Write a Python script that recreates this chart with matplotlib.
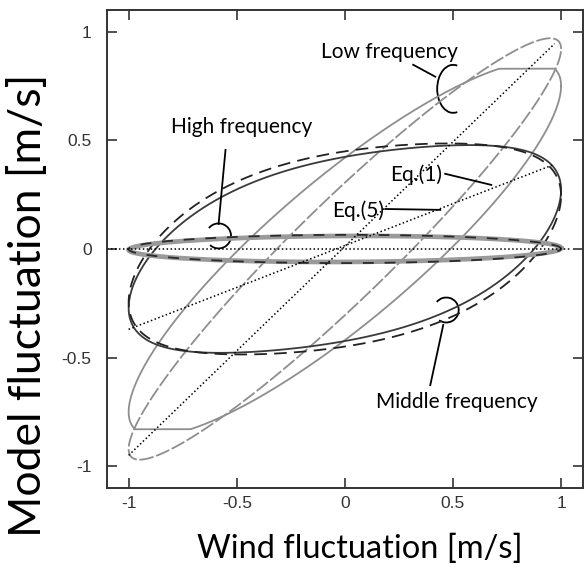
import numpy as np
import matplotlib
matplotlib.use("Agg")
import matplotlib.pyplot as plt
from matplotlib.patches import Arc

# loops: wind = cos(t), model = g1*cos(t - p1) + g3*cos(3t - p3)
# low frequency
low_gain = [0.97, 0.86]
low_phase = [0.32, 0.51]
low_limit = [None, 0.83]          # output saturation of the second model
# middle frequency
mid_gain = [0.50, 0.51]
mid_phase = [1.05, 1.12]
mid_gain3 = [0.025, 0.025]
mid_phase3 = [0.40, 0.40]
# high frequency
high_gain = [0.06, 0.065]
high_phase = [1.50, 1.55]

# dotted reference lines
line_x = [-1.0, 0.97]
steep_y = [-0.95, 0.945]
shallow_y = [-0.37, 0.39]

ticks = [-1, -0.5, 0, 0.5, 1]
tick_labels = ["-1", "-0.5", "0", "0.5", "1"]

t = np.linspace(0, 2 * np.pi, 721)
wind = np.cos(t)


def loop(g1, p1, g3=0.0, p3=0.0, limit=None):
    y = g1 * np.cos(t - p1) + g3 * np.cos(3 * t - p3)
    if limit is not None:
        y = np.clip(y, -limit, limit)
    return y


fig = plt.figure(figsize=(5.88, 5.72), dpi=100)
ax = fig.add_axes([0.182, 0.147, 0.809, 0.8355])

gray = "#8e8e8e"
dark = "#3a3a3a"

# low frequency loops
ax.plot(wind, loop(low_gain[0], low_phase[0]), color=gray, lw=1.3,
        dashes=(8, 1.5))
ax.plot(wind, loop(low_gain[1], low_phase[1], limit=low_limit[1]),
        color=gray, lw=1.3)

# middle frequency loops
ax.plot(wind, loop(mid_gain[0], mid_phase[0], mid_gain3[0], mid_phase3[0]),
        color=dark, lw=1.3)
ax.plot(wind, loop(mid_gain[1], mid_phase[1], mid_gain3[1], mid_phase3[1]),
        color="#222222", lw=1.3, dashes=(7, 4))

# high frequency loops
ax.plot(wind, loop(high_gain[0], high_phase[0]), color="#9a9a9a", lw=3.4)
ax.plot(wind, loop(high_gain[1], high_phase[1]), color="#2a2a2a", lw=1.3,
        dashes=(6, 6))

# dotted lines
dots = (0, (1, 1.6))
ax.plot([-1.1, 1.04], [0, 0], color="black", lw=1.1, linestyle=dots)
ax.plot(line_x, steep_y, color="black", lw=1.1, linestyle=dots)
ax.plot(line_x, shallow_y, color="black", lw=1.1, linestyle=dots)

# annotations
note_font = dict(family=["Lato", "DejaVu Sans"], size=15, color="black")
ax.text(0.208, 0.908, "Low frequency", ha="center", va="center", **note_font)
ax.plot([0.316, 0.418], [0.848, 0.793], color="black", lw=1.3)
ax.add_patch(Arc((0.501, 0.737), 0.148, 0.221, theta1=80, theta2=280,
                 color="black", lw=1.3))

ax.text(-0.478, 0.562, "High frequency", ha="center", va="center", **note_font)
ax.plot([-0.552, -0.584], [0.456, 0.115], color="black", lw=1.3)
ax.add_patch(Arc((-0.584, 0.060), 0.115, 0.115, theta1=-133, theta2=141,
                 color="black", lw=1.3))

ax.text(0.330, 0.341, "Eq.(1)", ha="center", va="center", **note_font)
ax.plot([0.464, 0.677], [0.346, 0.295], color="black", lw=1.3)
ax.text(0.062, 0.175, "Eq.(5)", ha="center", va="center", **note_font)
ax.plot([0.187, 0.441], [0.184, 0.180], color="black", lw=1.3)

ax.text(0.520, -0.705, "Middle frequency", ha="center", va="center", **note_font)
ax.plot([0.395, 0.455], [-0.627, -0.350], color="black", lw=1.3)
ax.add_patch(Arc((0.469, -0.281), 0.115, 0.115, theta1=-125, theta2=140,
                 color="black", lw=1.3))

ax.set_xlim(-1.1, 1.1)
ax.set_ylim(-1.1, 1.1)
ax.set_xticks(ticks)
ax.set_xticklabels(tick_labels)
ax.set_yticks(ticks)
ax.set_yticklabels(tick_labels)
ax.tick_params(direction="in", length=7, width=1.2, top=True, right=True,
               labelsize=12.5, labelcolor="#333333", color="#333333")
ax.tick_params(axis="x", pad=6)
ax.tick_params(axis="y", pad=11)
for lab in ax.get_xticklabels() + ax.get_yticklabels():
    lab.set_family(["Liberation Sans", "DejaVu Sans"])
for s in ax.spines.values():
    s.set_linewidth(1.4)
    s.set_color("#333333")

ax.set_xlabel("Wind fluctuation [m/s]", family=["Lato", "DejaVu Sans"],
              size=23.5)
ax.set_ylabel("Model fluctuation [m/s]", family=["Lato", "DejaVu Sans"],
              size=32)
ax.xaxis.set_label_coords(0.531, -0.095)
ax.yaxis.set_label_coords(-0.122, 0.383)

fig.savefig("out.png", dpi=100)
